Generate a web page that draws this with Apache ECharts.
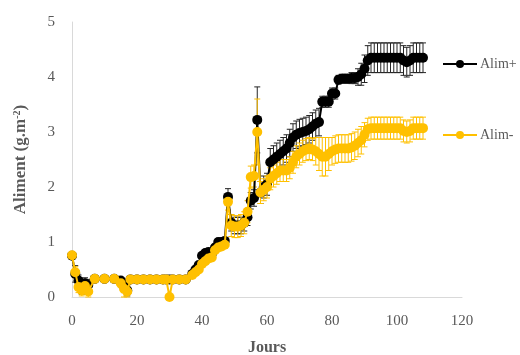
<!DOCTYPE html>
<html>
<head>
<meta charset="utf-8">
<script src="https://cdn.jsdelivr.net/npm/echarts@6/dist/echarts.min.js"></script>
<style>html,body{margin:0;padding:0;background:#fff}#c{width:520px;height:355px}</style>
</head>
<body>
<div id="c"></div>
<script>
const days = [0,1,2,3,4,5,7,10,13,15,16,17,18,20,22,24,26,28,29,30,31,33,35,
  37,38,39,40,41,42,43,44,45,46,47,48,49,50,51,52,53,54,55,56,57,58,59,60,
  61,62,63,64,65,66,67,68,69,70,71,72,73,74,75,76,77,78,79,80,81,82,83,84,
  85,86,87,88,89,90,91,92,93,94,95,96,97,98,99,100,101,102,103,104,105,106,107,108];
const alimPlus = [0.75,0.42,0.3,0.15,0.25,0.22,0.33,0.33,0.33,0.3,0.2,0.12,0.32,0.32,0.32,0.32,0.32,0.32,0.32,0.32,0.32,0.32,0.32,
  0.42,0.5,0.58,0.75,0.8,0.82,0.78,0.9,1.0,1.0,1.02,1.82,1.35,1.3,1.3,1.3,1.35,1.45,1.75,1.8,3.22,1.9,2.0,2.05,
  2.45,2.5,2.55,2.6,2.65,2.7,2.8,2.9,2.95,2.98,3.0,3.02,3.05,3.1,3.15,3.18,3.55,3.55,3.55,3.7,3.7,3.95,3.97,3.97,
  3.97,3.98,3.98,4.0,4.05,4.15,4.3,4.35,4.35,4.35,4.35,4.35,4.35,4.35,4.35,4.35,4.35,4.3,4.27,4.3,4.35,4.35,4.35,4.35];
const errPlus = [0.05,0.15,0.1,0.1,0.1,0.1,0.03,0.03,0.03,0.05,0.12,0.1,0.03,0.03,0.03,0.03,0.03,0.03,0.03,0.03,0.03,0.03,0.03,
  0.05,0.05,0.05,0.06,0.06,0.06,0.06,0.06,0.06,0.06,0.06,0.15,0.15,0.15,0.15,0.15,0.15,0.15,0.15,0.15,0.6,0.2,0.2,0.2,
  0.25,0.25,0.25,0.25,0.25,0.25,0.25,0.25,0.25,0.25,0.25,0.25,0.25,0.25,0.25,0.25,0.1,0.1,0.1,0.1,0.1,0.08,0.08,0.08,
  0.08,0.1,0.1,0.15,0.2,0.25,0.27,0.27,0.27,0.27,0.27,0.27,0.27,0.27,0.27,0.27,0.27,0.27,0.27,0.27,0.27,0.27,0.27,0.27];
const alimMinus = [0.76,0.45,0.18,0.12,0.2,0.1,0.33,0.33,0.33,0.25,0.15,0.1,0.32,0.32,0.32,0.32,0.32,0.32,0.32,0.0,0.32,0.32,0.32,
  0.4,0.45,0.5,0.6,0.65,0.7,0.72,0.85,0.9,0.92,0.95,1.73,1.3,1.28,1.28,1.3,1.35,1.55,2.18,2.2,3.0,1.9,1.95,2.0,
  2.15,2.2,2.25,2.3,2.3,2.3,2.35,2.45,2.55,2.6,2.65,2.68,2.7,2.68,2.65,2.6,2.55,2.55,2.6,2.65,2.68,2.7,2.7,2.7,
  2.7,2.72,2.75,2.8,2.85,2.95,3.05,3.07,3.07,3.07,3.07,3.07,3.07,3.07,3.07,3.07,3.07,3.02,3.0,3.02,3.07,3.07,3.07,3.07];
const errMinus = [0.05,0.1,0.1,0.1,0.1,0.1,0.03,0.03,0.03,0.08,0.15,0.1,0.03,0.03,0.03,0.03,0.03,0.03,0.03,0.03,0.03,0.03,0.03,
  0.05,0.05,0.05,0.06,0.06,0.06,0.06,0.06,0.06,0.06,0.06,0.15,0.2,0.2,0.2,0.2,0.2,0.2,0.2,0.2,0.6,0.2,0.2,0.2,
  0.2,0.2,0.2,0.2,0.2,0.2,0.2,0.2,0.2,0.2,0.2,0.2,0.2,0.2,0.25,0.3,0.35,0.35,0.3,0.25,0.25,0.25,0.25,0.25,
  0.25,0.25,0.25,0.25,0.25,0.22,0.2,0.2,0.2,0.2,0.2,0.2,0.2,0.2,0.2,0.2,0.2,0.2,0.2,0.2,0.2,0.2,0.2,0.2];
const xTicks = {min:0, max:120, interval:20};
const yTicks = {min:0, max:5, interval:1};

const FONT = 'Liberation Serif';
const GREY = '#595959';
const BLACK = '#000000';
const GOLD = '#FFC000';

function pts(v){ return days.map((d,i)=>[d, v[i]]); }
function errs(v,e){ return days.map((d,i)=>[d, v[i]-e[i], v[i]+e[i]]); }
function errSeries(name, v, e, color){
  return {
    type:'custom', name: name+'_err', z:1, silent:true,
    data: errs(v,e),
    renderItem: function(params, api){
      const x = api.value(0);
      const lo = api.coord([x, api.value(1)]);
      const hi = api.coord([x, api.value(2)]);
      const w = 3;
      const st = {stroke: color, lineWidth: 1};
      return {type:'group', children:[
        {type:'line', shape:{x1:lo[0],y1:lo[1],x2:hi[0],y2:hi[1]}, style:st},
        {type:'line', shape:{x1:lo[0]-w,y1:lo[1],x2:lo[0]+w,y2:lo[1]}, style:st},
        {type:'line', shape:{x1:hi[0]-w,y1:hi[1],x2:hi[0]+w,y2:hi[1]}, style:st}
      ]};
    }
  };
}

const chart = echarts.init(document.getElementById('c'));
chart.setOption({
  animation:false,
  textStyle:{fontFamily:FONT},
  grid:{left:72, right:58, top:22, bottom:58, outerBoundsMode:'none', containLabel:false},
  legend:[
    {data:['Alim+'], left:437, top:52, itemWidth:34, itemHeight:10, itemGap:3,
     textStyle:{color:GREY, fontFamily:FONT, fontSize:14, padding:[0,0,0,-2]}},
    {data:['Alim-'], left:437, top:123, itemWidth:34, itemHeight:10, itemGap:3,
     textStyle:{color:GREY, fontFamily:FONT, fontSize:14, padding:[0,0,0,-2]}}
  ],
  xAxis:{
    type:'value', min:xTicks.min, max:xTicks.max, interval:xTicks.interval,
    name:'Jours', nameLocation:'middle', nameGap:43,
    nameTextStyle:{color:GREY, fontFamily:FONT, fontSize:16, fontWeight:'bold'},
    axisLine:{show:true, lineStyle:{color:'#d9d9d9', width:1}},
    axisTick:{show:false}, splitLine:{show:false},
    axisLabel:{color:GREY, fontFamily:FONT, fontSize:15, margin:17}
  },
  yAxis:{
    type:'value', min:yTicks.min, max:yTicks.max, interval:yTicks.interval,
    name:'Aliment (g.m{sup|-2})', nameLocation:'middle', nameGap:42, nameRotate:90,
    nameTextStyle:{color:GREY, fontFamily:FONT, fontSize:17, fontWeight:'bold',
      rich:{sup:{fontSize:10, fontWeight:'bold', color:GREY, fontFamily:FONT, verticalAlign:'top', padding:[0,0,8,0]}}},
    axisLine:{show:true, lineStyle:{color:'#d9d9d9', width:1}},
    axisTick:{show:false}, splitLine:{show:false},
    axisLabel:{color:GREY, fontFamily:FONT, fontSize:15, margin:17}
  },
  series:[
    errSeries('Alim+', alimPlus, errPlus, '#262626'),
    {type:'line', name:'Alim+', z:2, data:pts(alimPlus), symbol:'circle', symbolSize:10,
     lineStyle:{color:BLACK, width:2}, itemStyle:{color:BLACK}},
    errSeries('Alim-', alimMinus, errMinus, GOLD),
    {type:'line', name:'Alim-', z:3, data:pts(alimMinus), symbol:'circle', symbolSize:10,
     lineStyle:{color:GOLD, width:2}, itemStyle:{color:GOLD}}
  ]
});
</script>
</body>
</html>
